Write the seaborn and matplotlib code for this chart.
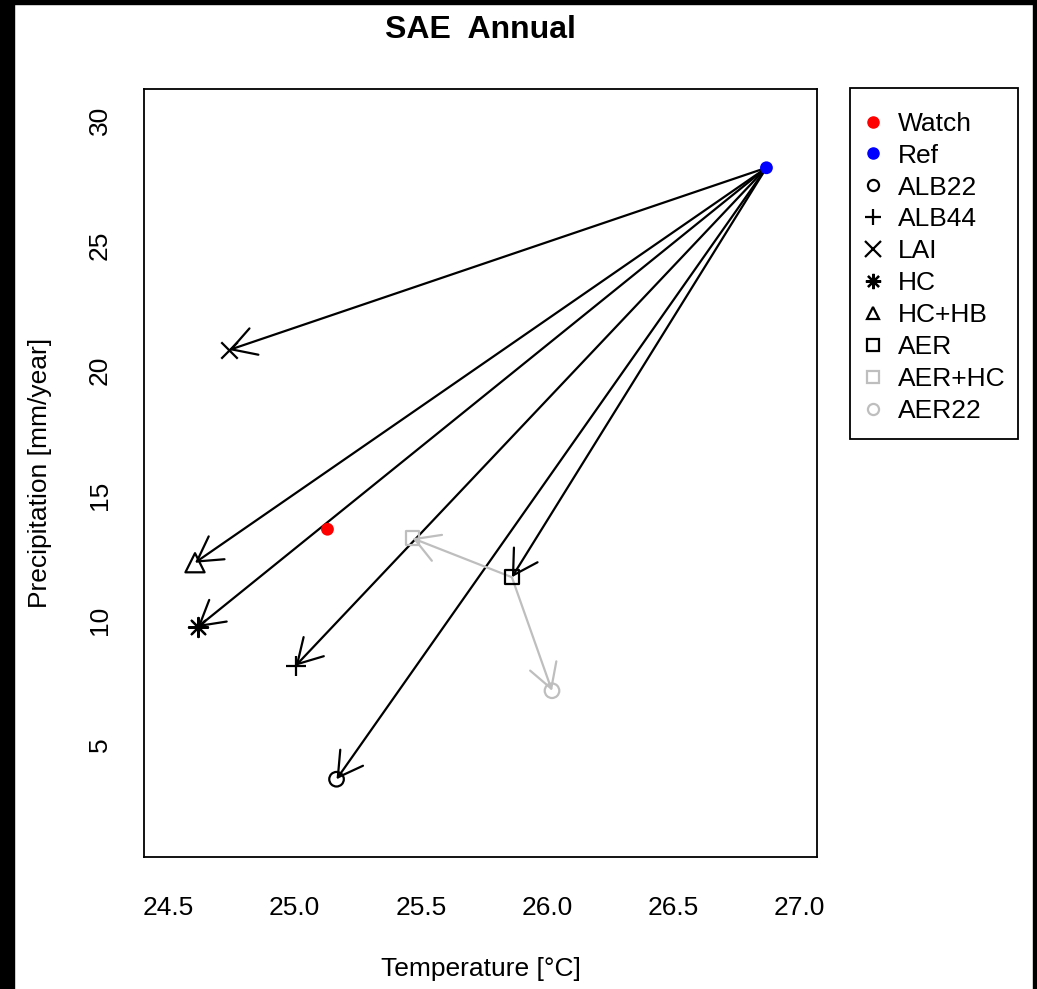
import numpy as np
import pandas as pd
import matplotlib
matplotlib.use("Agg")
import matplotlib.pyplot as plt
import seaborn as sns
from matplotlib.lines import Line2D
from matplotlib.patches import Rectangle

# data
labels = ["Watch", "Ref", "ALB22", "ALB44", "LAI", "HC", "HC+HB", "AER", "AER+HC", "AER22"]
temp = [25.13, 26.87, 25.166, 25.004, 24.74, 24.615, 24.605, 25.861, 25.467, 26.02]
precip = [13.63, 28.09, 3.63, 8.17, 20.8, 9.71, 12.29, 11.71, 13.27, 7.17]
markers = ["o", "o", "o", "+", "x", (8, 2, 0), "^", "s", "s", "o"]
colors = ["red", "blue", "black", "black", "black", "black", "black", "black", "#BEBEBE", "#BEBEBE"]
filled = [True, True, False, False, False, False, False, False, False, False]

# arrows: (from, to)
black_arrows = [("Ref", "ALB22"), ("Ref", "ALB44"), ("Ref", "LAI"), ("Ref", "HC"), ("Ref", "HC+HB"), ("Ref", "AER")]
gray_arrows = [("AER", "AER+HC"), ("AER", "AER22")]

xticks = [24.5, 25.0, 25.5, 26.0, 26.5, 27.0]
yticks = [5, 10, 15, 20, 25, 30]

df = pd.DataFrame({"label": labels, "temp": temp, "precip": precip})
pos = {r.label: (r.temp, r.precip) for r in df.itertuples()}

sns.set_style("white")
plt.rcParams["font.family"] = ["Liberation Sans", "DejaVu Sans"]
for k in ["text.color", "axes.labelcolor", "xtick.color", "ytick.color"]:
    plt.rcParams[k] = "black"

fig = plt.figure(figsize=(10.37, 9.89), dpi=100)
ax = fig.add_axes([0.1389, 0.1335, 0.6491, 0.7765])

arrow_style = matplotlib.patches.ArrowStyle("->", head_length=17.3, head_width=10)
for arrows, col in [(black_arrows, "black"), (gray_arrows, "#BEBEBE")]:
    for a, b in arrows:
        ax.annotate("", xy=pos[b], xytext=pos[a],
                    arrowprops=dict(arrowstyle=arrow_style, color=col, lw=1.6,
                                    shrinkA=0, shrinkB=0, mutation_scale=1))

for i, row in df.iterrows():
    m = markers[i]
    if filled[i]:
        sns.scatterplot(x=[row.temp], y=[row.precip], ax=ax, marker="o", s=85,
                        color=colors[i], edgecolor="none", zorder=5)
    elif m in ("+", "x", (8, 2, 0)):
        sz = 140 if m == "x" else 190
        sns.scatterplot(x=[row.temp], y=[row.precip], ax=ax, marker=m, s=sz,
                        color=colors[i], linewidth=1.6, zorder=5)
    else:
        sz = 110 if m == "o" else (100 if m == "s" else 190)
        sns.scatterplot(x=[row.temp], y=[row.precip], ax=ax, marker=m, s=sz,
                        facecolor="none", edgecolor=colors[i], linewidth=1.6, zorder=5)

ax.set_xlim(24.403, 27.071)
ax.set_ylim(0.52, 31.24)
ax.set_xticks(xticks)
ax.set_xticklabels([f"{t:.1f}" for t in xticks])
ax.set_yticks(yticks)
ax.set_yticklabels([str(t) for t in yticks], rotation=90, va="center")
ax.tick_params(direction="out", length=10, width=1.1, labelsize=19, color="#444444")
ax.tick_params(axis="x", pad=18)
ax.tick_params(axis="y", pad=13)
for s in ax.spines.values():
    s.set_color("black")
    s.set_linewidth(1.3)

ax.set_xlabel("Temperature [°C]", fontsize=19, labelpad=27)
ax.set_ylabel("Precipitation [mm/year]", fontsize=19, labelpad=26)
ax.set_title("SAE  Annual", fontsize=23, fontweight="bold", pad=37)

handles = []
for i, lab in enumerate(labels):
    if filled[i]:
        h = Line2D([], [], ls="none", marker="o", markersize=8, color=colors[i])
    elif markers[i] in ("+", "x", (8, 2, 0)):
        h = Line2D([], [], ls="none", marker=markers[i], markersize=11, color=colors[i], markeredgewidth=1.6)
    else:
        h = Line2D([], [], ls="none", marker=markers[i], markersize=8, markerfacecolor="none",
                   markeredgecolor=colors[i], markeredgewidth=1.6)
    handles.append(h)
leg = fig.legend(handles, labels, loc="upper left", bbox_to_anchor=(836 / 1037, 1 - 88 / 989),
                 fontsize=19, frameon=False,
                 labelspacing=0.3, handlelength=1.0, handletextpad=0.45, borderpad=0.9,
                 borderaxespad=0)
# legend box as in the reference
fig.patches.append(Rectangle((850 / 1037, 1 - 439 / 989), 168 / 1037, 351 / 989,
                             transform=fig.transFigure, fill=False, edgecolor="black", lw=1.3))

# black border strips on edges of the reference image
for x0, y0, w, h in [(0, 0, 14 / 1037, 1), (0, 1 - 4 / 989, 1, 4 / 989), (1 - 4 / 1037, 0, 4 / 1037, 1)]:
    fig.patches.append(Rectangle((x0, y0), w, h, transform=fig.transFigure, color="black", zorder=10))

fig.savefig("out.png", dpi=100)
